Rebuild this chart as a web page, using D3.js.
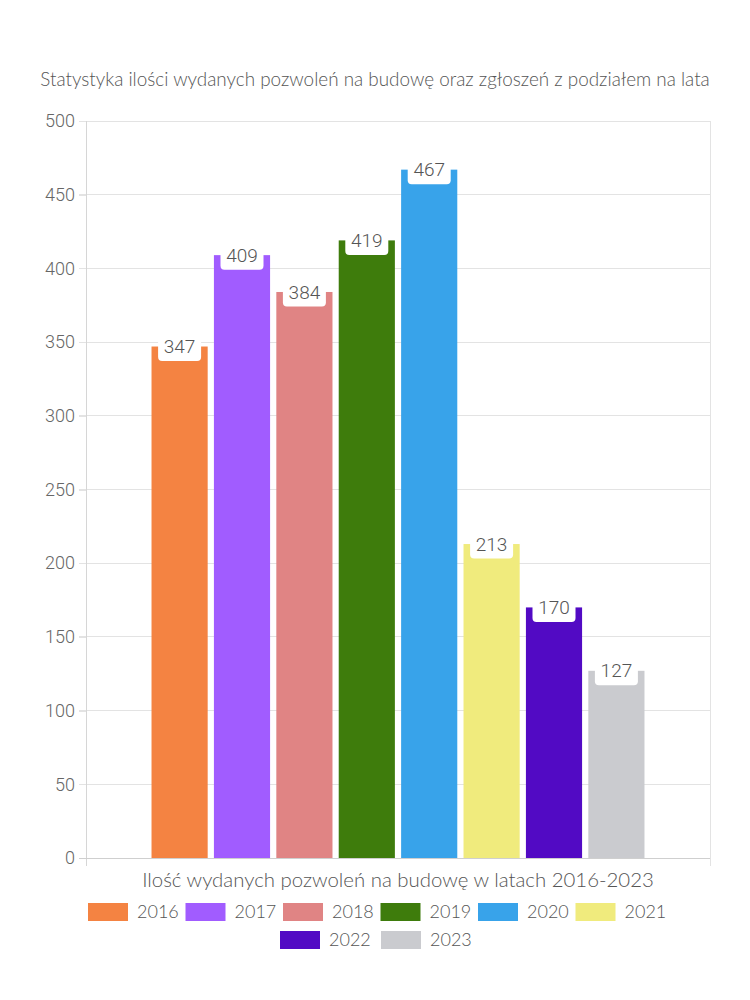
<!DOCTYPE html>
<html><head><meta charset="utf-8">
<script src="https://cdn.jsdelivr.net/npm/d3@7/dist/d3.min.js"></script>
<style>body{margin:0;background:#fff;} svg{display:block;}</style>
</head><body>
<svg id="c" width="750" height="1000"></svg>
<script>
const years = ["2016","2017","2018","2019","2020","2021","2022","2023"];
const values = [347, 409, 384, 419, 467, 213, 170, 127];
const colors = ["#f48342","#a15cff","#e08484","#3e7c0c","#38a3ea","#f0eb7d","#520ac4","#cacbcf"];
const yTicks = [0,50,100,150,200,250,300,350,400,450,500];
const title = "Statystyka ilości wydanych pozwoleń na budowę oraz zgłoszeń z podziałem na lata";
const xTitle = "Ilość wydanych pozwoleń na budowę w latach 2016-2023";

const svg = d3.select("#c");
const L = 86, R = 710, T = 121, B = 858;
const textFont = "Lato, 'Noto Sans', sans-serif";
const numFont = "Roboto, 'Liberation Sans', sans-serif";
const textW = 300;

const y = d3.scaleLinear().domain([0,500]).range([B,T]);
const groupPad = (R-L)*0.105;
const x = d3.scaleBand().domain(years).range([L+groupPad, R-groupPad]).paddingInner(0.1).paddingOuter(0);

// gridlines
svg.append("g").selectAll("line").data(yTicks.filter(d=>d>0)).join("line")
  .attr("x1", L-7).attr("x2", R).attr("y1", d=>y(d)).attr("y2", d=>y(d))
  .attr("stroke","#e3e3e3").attr("stroke-width",1).attr("shape-rendering","crispEdges");
// right border
svg.append("line").attr("x1",R).attr("x2",R).attr("y1",T).attr("y2",B+8)
  .attr("stroke","#e3e3e3").attr("shape-rendering","crispEdges");

// y axis
const yAxis = d3.axisLeft(y).tickValues(yTicks).tickSize(7).tickPadding(4);
const gy = svg.append("g").attr("transform",`translate(${L},0)`).call(yAxis);
gy.select(".domain").remove();
gy.selectAll(".tick line").attr("stroke","#e3e3e3").attr("shape-rendering","crispEdges");
gy.selectAll(".tick text").attr("fill","#666").attr("font-size",18).attr("font-family",numFont).attr("font-weight",300);
svg.append("line").attr("x1",L).attr("x2",L).attr("y1",T).attr("y2",B+8)
  .attr("stroke","#d6d6d6").attr("shape-rendering","crispEdges");
// x axis line
svg.append("line").attr("x1",L-7).attr("x2",R).attr("y1",B).attr("y2",B)
  .attr("stroke","#cfcfcf").attr("shape-rendering","crispEdges");

// bars
svg.append("g").selectAll("rect").data(years).join("rect")
  .attr("x", d=>x(d)).attr("width", x.bandwidth())
  .attr("y", (d,i)=>y(values[i])).attr("height",(d,i)=>B-y(values[i]))
  .attr("fill",(d,i)=>colors[i]);

// labels
const lab = svg.append("g").selectAll("g").data(years).join("g")
  .attr("transform",(d,i)=>`translate(${x(d)+x.bandwidth()/2},${y(values[i])})`);
lab.append("rect").attr("x",-21.5).attr("y",-15).attr("width",43).attr("height",29.5)
  .attr("rx",4).attr("fill","#fff");
lab.append("text").text((d,i)=>values[i]).attr("text-anchor","middle")
  .attr("dy","0.35em").attr("font-size",19).attr("font-family",numFont).attr("font-weight",300).attr("fill","#555");

function fitText(sel, w){
  const n = sel.node(); const cur = n.getComputedTextLength();
  const fs = parseFloat(sel.attr("font-size"));
  sel.attr("font-size", fs*w/cur);
}
// title
const t = svg.append("text").text(title).attr("x",375).attr("y",86).attr("text-anchor","middle")
  .attr("font-size",16).attr("font-family",textFont).attr("font-weight",textW).attr("fill","#555");
fitText(t, 670);
const xt = svg.append("text").text(xTitle).attr("x",398).attr("y",887).attr("text-anchor","middle")
  .attr("font-size",17).attr("font-family",textFont).attr("font-weight",textW).attr("fill","#555");
fitText(xt, 512);

// legend
const rows = [years.slice(0,6), years.slice(6)];
rows.forEach((row, r)=>{
  const start = r===0 ? 88 : 280;
  const cy = r===0 ? 912 : 940;
  const step = r===0 ? 97.5 : 101;
  const g = svg.append("g").selectAll("g").data(row).join("g")
    .attr("transform",(d,i)=>`translate(${start+i*step},${cy})`);
  g.append("rect").attr("x",0).attr("y",-9).attr("width",40).attr("height",18)
    .attr("fill",d=>colors[years.indexOf(d)]);
  g.append("text").text(d=>d).attr("x",49).attr("dy","0.35em")
    .attr("font-size",18).attr("font-family",textFont).attr("font-weight",textW).attr("fill","#555");
});
</script>
</body></html>
